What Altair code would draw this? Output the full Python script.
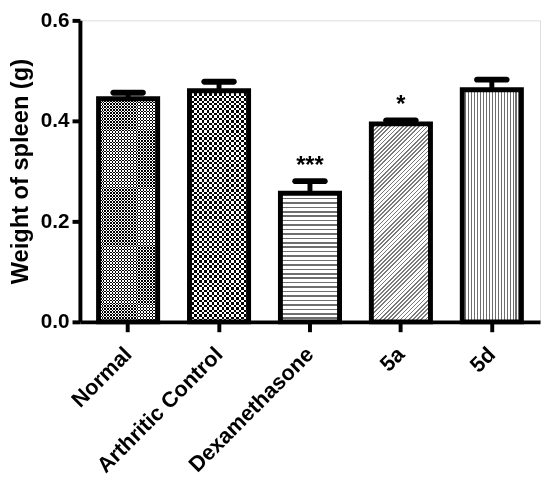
import altair as alt
import pandas as pd

groups = ["Normal", "Arthritic Control", "Dexamethasone", "5a", "5d"]
means = [0.444, 0.460, 0.256, 0.394, 0.462]
sems = [0.012, 0.018, 0.024, 0.007, 0.020]
stars = ["", "", "***", "*", ""]

df = pd.DataFrame({"group": groups, "mean": means, "sem": sems, "star": stars})
df["top"] = df["mean"] + df["sem"]

W, H = 467, 306
PX = H / 0.6  # pixels per gram on the y scale
BAR = 60
FONT = "Liberation Sans"


def stripes(n, ink, paper, ink_frac, x2, y2):
    # hard-stop linear gradient, used as a hatch pattern
    stops = []
    for i in range(n):
        a, b, c = i / n, (i + ink_frac) / n, (i + 1) / n
        stops += [alt.GradientStop(color=ink, offset=a),
                  alt.GradientStop(color=ink, offset=b),
                  alt.GradientStop(color=paper, offset=b),
                  alt.GradientStop(color=paper, offset=c)]
    return alt.Gradient(gradient="linear", stops=stops, x1=0, y1=0, x2=x2, y2=y2)


def bar_h(g):
    return means[groups.index(g)] * PX


x = alt.X("group:N", sort=groups, title=None,
          scale=alt.Scale(paddingInner=0, paddingOuter=0.03),
          axis=alt.Axis(labelAngle=-45, labelAlign="right", labelBaseline="middle",
                        labelFontSize=22, labelFontWeight="bold", labelFont=FONT,
                        labelColor="black", labelPadding=19, tickSize=10, tickWidth=4,
                        tickColor="black", domainWidth=4, domainColor="black"))
y = alt.Y("mean:Q", title="Weight of spleen (g)",
          scale=alt.Scale(domain=[0, 0.6], nice=False),
          axis=alt.Axis(values=[0, 0.2, 0.4, 0.6], format=".1f", grid=False,
                        labelFontSize=21, labelFontWeight="bold", labelFont=FONT,
                        labelColor="black", labelPadding=3, tickSize=8, tickWidth=4,
                        tickColor="black", domainWidth=4, domainColor="black",
                        titleFontSize=24, titleFontWeight="bold", titleFont=FONT,
                        titleColor="black", titlePadding=8))

base = alt.Chart(df)

err = base.mark_rule(color="black", strokeWidth=5).encode(x=x, y=y, y2="top:Q")
cap = base.mark_tick(color="black", opacity=1, size=36, thickness=6, cornerRadius=3,
                     orient="horizontal").encode(x=x, y="top:Q")

def one(g, fill, **kw):
    return base.transform_filter(alt.datum.group == g).mark_bar(
        size=BAR, fill=fill, **kw).encode(x=x, y=y)

# checkerboards: horizontal stripes, then vertical stripes with difference blend
nrm_h = one("Normal", stripes(round(bar_h("Normal") / 3), "black", "white", 0.5, 0, 1))
nrm_v = one("Normal", stripes(20, "white", "black", 0.5, 1, 0), blend="difference")
art_h = one("Arthritic Control", stripes(round(bar_h("Arthritic Control") / 5), "black", "white", 0.5, 0, 1))
art_v = one("Arthritic Control", stripes(12, "white", "black", 0.5, 1, 0), blend="difference")

dex = one("Dexamethasone", stripes(round(bar_h("Dexamethasone") / 4.5), "#6e6e6e", "white", 0.35, 0, 1))

h5a = bar_h("5a")
t = (BAR + h5a) / (BAR ** 2 + h5a ** 2)
d5a = one("5a", stripes(round((BAR + h5a) / 1.414 / 3), "#7a7a7a", "white", 0.4, t * BAR, t * h5a))

d5d = one("5d", stripes(20, "#6e6e6e", "white", 0.35, 1, 0))

outline = base.mark_bar(size=BAR, fillOpacity=0, stroke="black", strokeWidth=5).encode(x=x, y=y)

star = base.mark_text(fontSize=24, fontWeight="bold", font=FONT, color="black",
                      baseline="alphabetic", dy=-8).encode(x=x, y="top:Q", text="star:N")

chart = alt.layer(err, cap, nrm_h, nrm_v, art_h, art_v, dex, d5a, d5d, outline, star).properties(
    width=W, height=H,
    autosize=alt.AutoSizeParams(type="none"),
    padding={"left": 73, "top": 9, "right": 2, "bottom": 160},
).configure_view(stroke=None).configure(background="white")

chart.save("out.html", embed_options={"renderer": "svg", "actions": False})
